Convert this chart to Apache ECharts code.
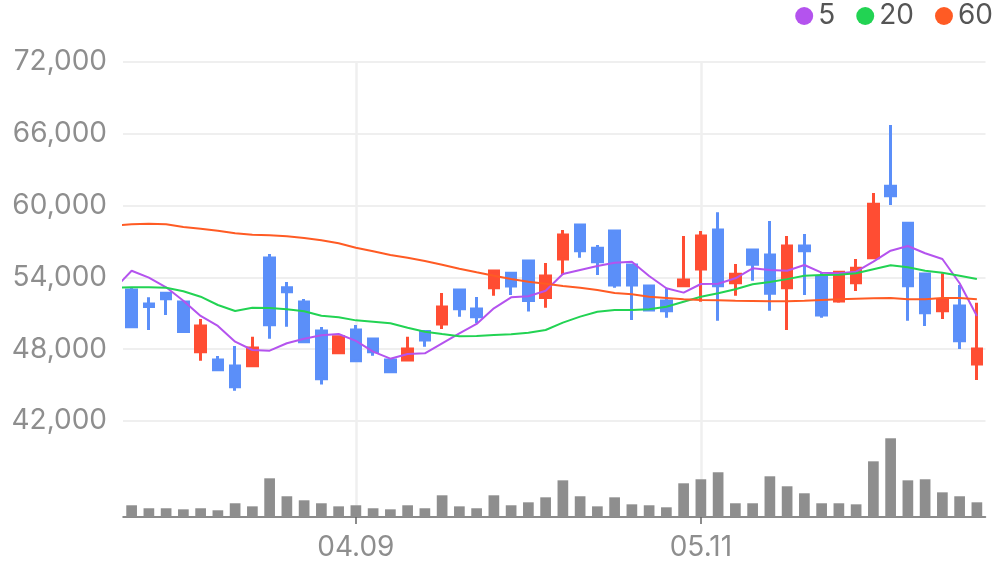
<!DOCTYPE html>
<html>
<head>
<meta charset="utf-8">
<script src="https://cdn.jsdelivr.net/npm/echarts@6/dist/echarts.min.js"></script>
<style>
  html, body { margin: 0; padding: 0; background: #fff; }
  #chart { width: 996px; height: 567px; }
</style>
</head>
<body>
<div id="chart"></div>
<script>
// first entry is the day before the visible window (only its MA segment shows, clipped)
const dates = ['03.20',
  '03.23', '03.24', '03.25', '03.26', '03.27', '03.30', '03.31', '04.01', '04.02', '04.03',
  '04.06', '04.07', '04.08', '04.09', '04.10', '04.13', '04.14', '04.16', '04.17', '04.20',
  '04.21', '04.22', '04.23', '04.24', '04.27', '04.28', '04.29', '04.30', '05.01', '05.04',
  '05.06', '05.07', '05.08', '05.11', '05.12', '05.13', '05.14', '05.15', '05.18', '05.19',
  '05.20', '05.21', '05.22', '05.25', '05.26', '05.27', '05.28', '05.29', '06.01', '06.02']
const tickLabels = ['04.09', '05.11']

// [open, close, low, high]
const candles = [
  [53500, 53100, 52800, 53900],
  [52950, 49880, 49880, 53180], [51780, 51560, 49610, 52340], [52670, 52220, 50860, 52700],
  [51950, 49470, 49470, 51950], [47790, 49940, 47040, 50530], [47100, 46290, 46290, 47430],
  [46600, 44870, 44530, 48270], [46620, 48100, 46620, 49050], [55620, 50050, 48880, 55960],
  [53140, 52810, 49880, 53620], [51950, 48630, 48550, 52200], [49520, 45540, 45040, 49860],
  [47710, 49050, 47710, 49170], [49610, 47040, 47040, 50020], [48850, 47790, 47460, 48850],
  [47100, 46120, 46120, 47100], [47100, 48020, 47100, 49050], [49470, 48770, 48210, 49470],
  [50110, 51530, 49690, 52700], [52950, 51390, 50720, 52950], [51360, 50720, 50170, 52360],
  [53140, 54540, 52470, 54540], [54340, 53280, 52530, 54340], [55370, 52060, 51140, 55370],
  [52310, 54120, 51470, 55200], [55540, 57540, 54200, 57960], [58380, 56230, 55650, 58380],
  [56430, 55310, 54200, 56710], [57880, 53370, 53140, 57880], [55040, 53370, 50440, 55040],
  [53280, 51280, 51140, 53280], [52030, 51220, 50630, 53090], [53310, 53780, 53230, 57460],
  [54700, 57460, 51970, 57880], [57960, 53310, 50380, 59440], [53560, 54260, 52470, 55120],
  [56290, 55100, 53730, 56370], [55870, 52670, 51220, 58710], [53140, 56630, 49610, 57460],
  [56630, 56230, 52530, 57630], [54060, 50860, 50630, 54430], [52030, 54430, 51890, 54430],
  [53560, 54760, 52870, 55540], [55650, 60110, 55650, 61050], [61610, 60830, 60050, 66740],
  [58520, 53310, 50380, 58520], [54290, 51050, 49940, 54400], [51220, 52110, 50530, 54340],
  [51610, 48710, 48020, 53370], [46770, 48020, 45430, 51890]
]

const volumes = [104,
  122, 91, 91, 80, 91, 70, 143, 111, 403, 216,
  174, 143, 111, 122, 91, 80, 122, 91, 226, 111,
  91, 226, 122, 153, 205, 382, 216, 111, 205, 132,
  122, 101, 351, 393, 466, 143, 143, 424, 320, 247,
  143, 143, 132, 580, 820, 382, 393, 257, 216, 153]

const ma5 = [53040,
  54560, 53976, 53175, 52055, 50776, 49940, 48628, 47934, 47877, 48495,
  48878, 49165, 49271, 48700, 47793, 47208, 47600, 47658, 48495, 49330,
  50107, 51419, 52338, 52422, 52890, 54285, 54619, 54953, 55230, 55313,
  54118, 53091, 52728, 53450, 53475, 53925, 54760, 54619, 54550, 55037,
  54398, 54342, 54477, 55313, 56232, 56625, 56015, 55538, 53508, 50776]

const ma20 = [53141,
  53175, 53175, 53141, 52840, 52389, 51695, 51194, 51470, 51444, 51336,
  51169, 50801, 50667, 50410, 50300, 50165, 49800, 49466, 49271, 49081,
  49104, 49188, 49245, 49382, 49606, 50220, 50720, 51135, 51277, 51277,
  51336, 51553, 51971, 52389, 52672, 53006, 53425, 53616, 53855, 54143,
  54202, 54229, 54342, 54677, 55011, 54844, 54560, 54393, 54143, 53868]

const ma60 = [58326,
  58437, 58493, 58437, 58214, 58075, 57907, 57690, 57573, 57523, 57440,
  57293, 57100, 56850, 56483, 56180, 55873, 55647, 55371, 55062, 54728,
  54427, 54143, 53868, 53642, 53475, 53283, 53141, 52948, 52698, 52589,
  52389, 52280, 52172, 52112, 52088, 52055, 52029, 52004, 52004, 52055,
  52112, 52172, 52222, 52255, 52280, 52172, 52172, 52280, 52280, 52172]

const upColor = '#FF4D33'
const downColor = '#5B8FF9'
const fontFamily = 'Inter'

const showTick = (i, v) => tickLabels.indexOf(v) >= 0

const chart = echarts.init(document.getElementById('chart'))

const maLine = (name, data, color) => ({
  name: name,
  type: 'line',
  data: data,
  xAxisIndex: 0,
  yAxisIndex: 0,
  showSymbol: false,
  symbol: 'none',
  smooth: false,
  clip: true,
  silent: true,
  color: color,
  lineStyle: { width: 2, color: color },
  z: 3
})

chart.setOption({
  animation: false,
  backgroundColor: '#fff',
  textStyle: { fontFamily: fontFamily },
  legend: {
    data: ['5', '20', '60'],
    top: 2,
    right: 3,
    padding: 0,
    icon: 'circle',
    itemWidth: 18,
    itemHeight: 18,
    itemGap: 21,
    textStyle: { fontSize: 28, color: '#555', fontFamily: fontFamily }
  },
  grid: [
    { left: 123, right: 10.5, top: 62, height: 359 },
    { left: 123, right: 10.5, top: 421, height: 96 }
  ],
  xAxis: [{
    type: 'category',
    gridIndex: 0,
    data: dates,
    min: 1,
    max: dates.length - 1,
    boundaryGap: true,
    axisLine: { show: false },
    axisTick: { show: false },
    axisLabel: { show: false },
    splitLine: {
      show: true,
      interval: showTick,
      alignWithLabel: true,
      lineStyle: { color: '#EFEFEF', width: 2.5 }
    }
  }, {
    type: 'category',
    gridIndex: 1,
    data: dates,
    min: 1,
    max: dates.length - 1,
    boundaryGap: true,
    axisLine: { show: true, lineStyle: { color: '#666', width: 1.5 } },
    axisTick: {
      show: true,
      interval: showTick,
      alignWithLabel: true,
      length: 7,
      lineStyle: { color: '#666', width: 1.5 }
    },
    axisLabel: {
      show: true,
      interval: showTick,
      margin: 17,
      fontSize: 28,
      color: '#8E8E8E',
      fontFamily: fontFamily
    },
    splitLine: {
      show: true,
      interval: showTick,
      alignWithLabel: true,
      lineStyle: { color: '#EFEFEF', width: 2.5 }
    }
  }],
  yAxis: [{
    type: 'value',
    gridIndex: 0,
    min: 42000,
    max: 72000,
    interval: 6000,
    axisLine: { show: false },
    axisTick: { show: false },
    axisLabel: {
      margin: 16,
      fontSize: 28,
      color: '#8E8E8E',
      fontFamily: fontFamily,
      formatter: v => v.toLocaleString('en-US')
    },
    splitLine: { lineStyle: { color: '#EFEFEF', width: 2 } }
  }, {
    type: 'value',
    gridIndex: 1,
    min: 0,
    max: 1000,
    axisLine: { show: false },
    axisTick: { show: false },
    axisLabel: { show: false },
    splitLine: { show: false }
  }],
  series: [{
    name: 'K',
    type: 'candlestick',
    data: candles,
    xAxisIndex: 0,
    yAxisIndex: 0,
    barWidth: 10,
    clip: true,
    silent: true,
    itemStyle: {
      color: upColor,
      color0: downColor,
      borderColor: upColor,
      borderColor0: downColor,
      borderWidth: 3
    },
    z: 2
  },
  maLine('5', ma5, '#B453EE'),
  maLine('20', ma20, '#22D353'),
  maLine('60', ma60, '#FF5B24'),
  {
    name: 'volume',
    type: 'bar',
    data: volumes,
    xAxisIndex: 1,
    yAxisIndex: 1,
    barWidth: '62%',
    clip: true,
    silent: true,
    itemStyle: { color: '#8E8E8E' }
  }]
})
</script>
</body>
</html>
